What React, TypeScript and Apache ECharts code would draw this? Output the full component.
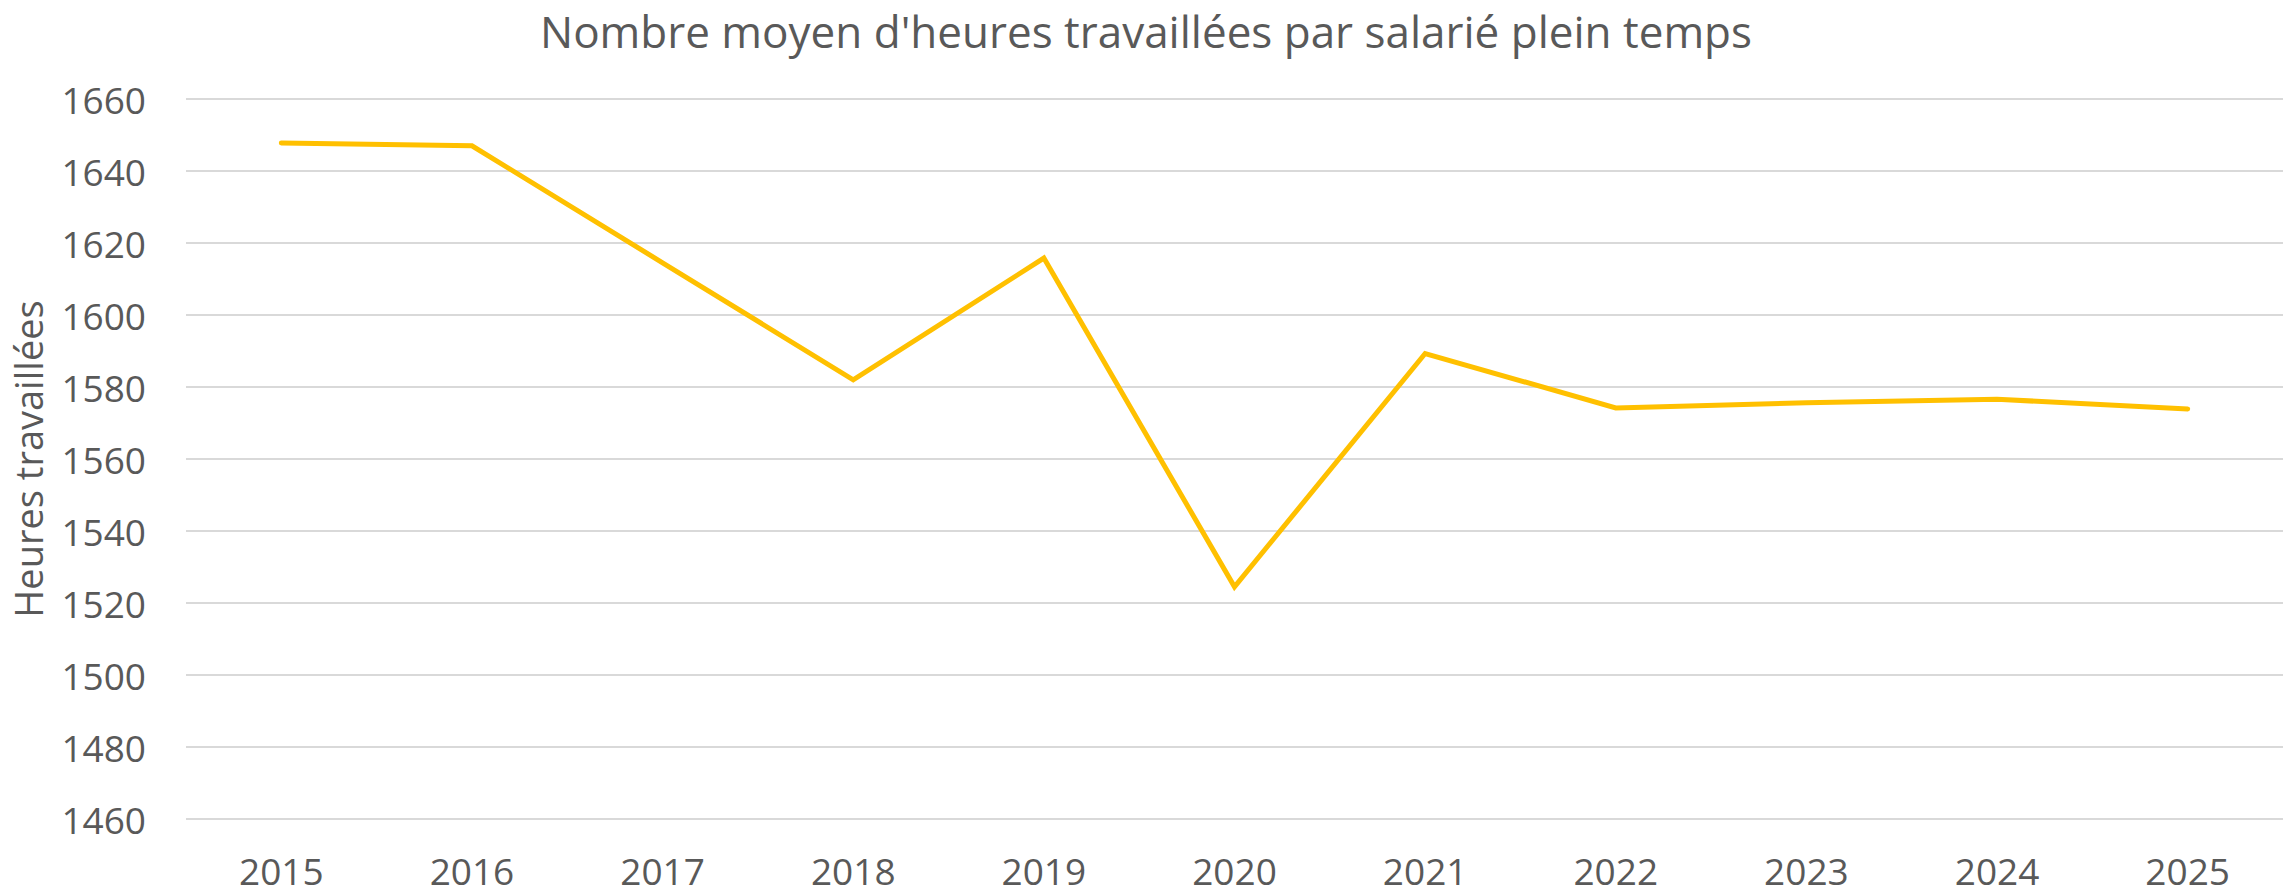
import React, { useEffect, useRef } from "react";
import * as echarts from "echarts";

const titleText = "Nombre moyen d'heures travaillées par salarié plein temps";
const yAxisName = "Heures travaillées";
const years = ["2015", "2016", "2017", "2018", "2019", "2020", "2021", "2022", "2023", "2024", "2025"];
const hours = [1647.8, 1647.0, 1614.5, 1582.0, 1615.8, 1524.5, 1589.3, 1574.2, 1575.6, 1576.6, 1573.9];
const yMin = 1460;
const yMax = 1660;
const yStep = 20;

const FONT = "'Open Sans', sans-serif";
const TEXT = "#595959";

export default function App() {
  const ref = useRef<HTMLDivElement>(null);
  useEffect(() => {
    document.body.style.margin = "0";
    if (!ref.current) return;
    const chart = echarts.init(ref.current, undefined, { renderer: "svg" });
    chart.setOption({
      animation: false,
      backgroundColor: "#ffffff",
      title: {
        text: titleText,
        left: "center",
        top: 4,
        textStyle: { fontFamily: FONT, fontSize: 44, fontWeight: "normal", color: TEXT },
      },
      grid: { left: 186, right: 9, top: 99, bottom: 71, containLabel: false },
      xAxis: {
        type: "category",
        data: years,
        boundaryGap: true,
        axisLine: { show: false },
        axisTick: { show: false },
        axisLabel: { fontFamily: FONT, fontSize: 37, color: TEXT, margin: 33 },
      },
      yAxis: {
        type: "value",
        min: yMin,
        max: yMax,
        interval: yStep,
        name: yAxisName,
        nameLocation: "middle",
        nameGap: 139,
        nameTextStyle: { fontFamily: FONT, fontSize: 38, color: TEXT },
        axisLine: { show: false },
        axisTick: { show: false },
        axisLabel: {
          fontFamily: FONT,
          fontSize: 37,
          color: TEXT,
          margin: 40,
          formatter: (v: number) => String(v),
        },
        splitLine: { lineStyle: { color: "#d9d9d9", width: 2 } },
      },
      series: [
        {
          type: "line",
          data: hours,
          symbol: "none",
          lineStyle: { color: "#FFC000", width: 5, cap: "round", join: "miter" },
        },
      ],
    });
    return () => chart.dispose();
  }, []);
  return <div ref={ref} style={{ width: 2292, height: 890 }} />;
}
